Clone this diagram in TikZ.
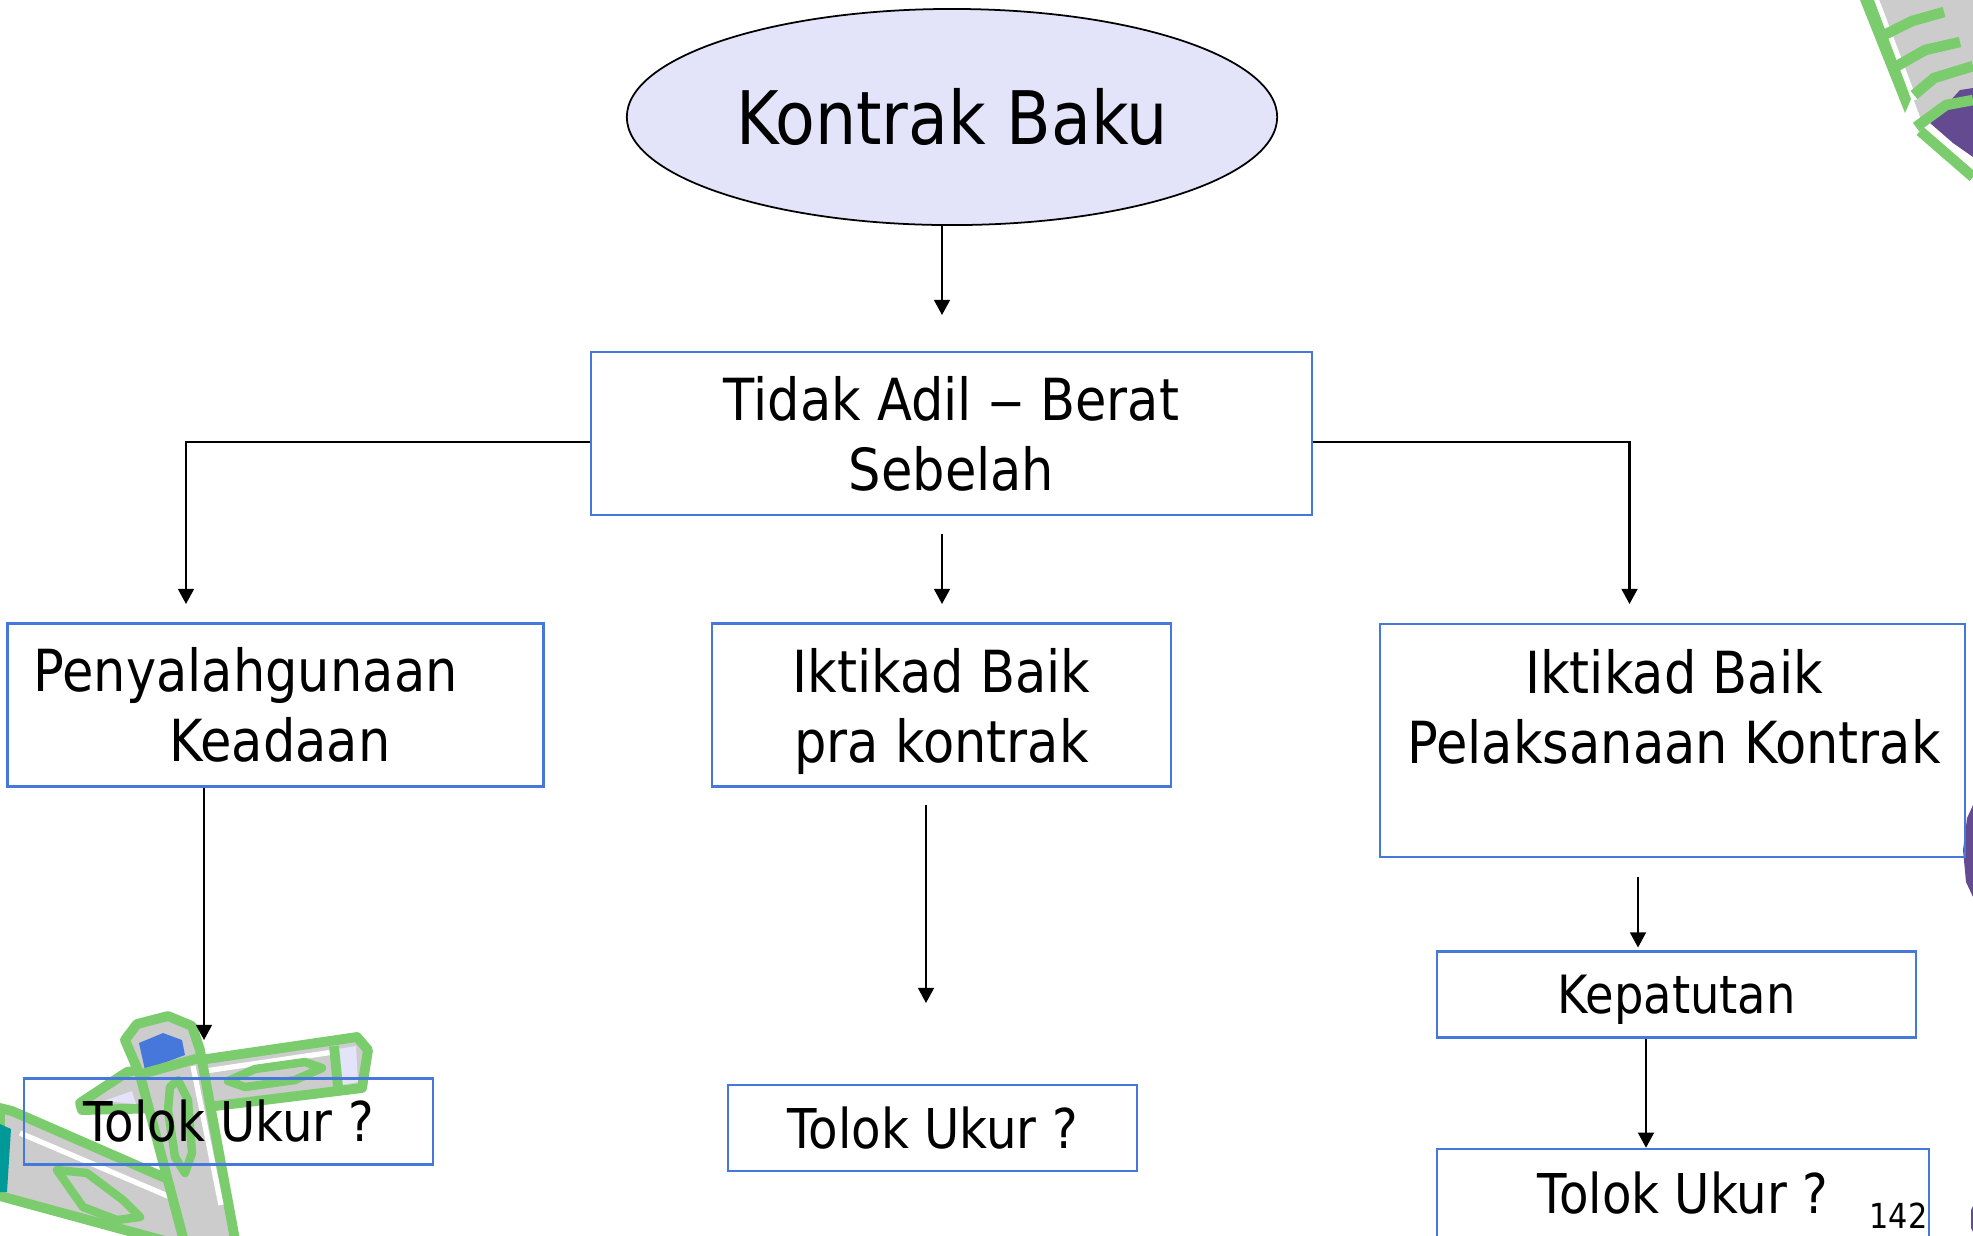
\documentclass[tikz,border=0pt]{standalone}
\usepackage{fontspec}
\setmainfont{DejaVu Sans}[FakeStretch=0.88]
\usetikzlibrary{arrows.meta}
\usetikzlibrary{positioning}
\usetikzlibrary{shapes.geometric}

\definecolor{garisbiru}{RGB}{70,120,220}
\definecolor{isielips}{RGB}{227,227,250}
\definecolor{klipHijau}{RGB}{122,204,108}
\definecolor{klipAbu}{RGB}{204,204,204}
\definecolor{klipBiru}{RGB}{70,120,220}
\definecolor{klipTeal}{RGB}{0,153,153}
\definecolor{klipUngu}{RGB}{100,75,145}

% last line without descender depth, so the text sits like its neighbours
\newcommand{\tanpakaki}[1]{\raisebox{0pt}[\height][0pt]{#1}}

\tikzset{
    elips/.style = {ellipse, draw=black, line width=0.5pt, fill=isielips, inner sep=0pt,
                    font=\fontsize{21}{25}\selectfont},
    kotak/.style = {rectangle, draw=garisbiru, line width=0.7pt, inner sep=0pt, align=center,
                    font=\fontsize{16.5}{19.9}\selectfont},
    kotakkecil/.style = {kotak, minimum height=0.86cm, font=\fontsize{15}{18}\selectfont},
    tolok/.style = {kotakkecil, font=\fontsize{15.6}{18}\selectfont},
    teks/.style = {inner sep=0pt, align=center, font=\fontsize{16.5}{19.9}\selectfont},
    panah/.style = {-{Triangle[width=4.5pt,length=4.3pt]}, line width=0.6pt},
    klip/.style = {fill=klipAbu, draw=klipHijau, line width=2.8pt, line join=round},
    tapak/.style = {draw=klipHijau, line width=2.4pt, line join=round},
}

\begin{document}
\begin{tikzpicture}[x=0.01cm, y=-0.01cm]
    \useasboundingbox (0,0) rectangle (1973,1235);
    \clip (0,0) rectangle (1973,1235);
    \fill[white] (0,0) rectangle (1973,1235);

    % paper clips, bottom left
    \filldraw[klip] (80,1103) -- (127,1072) -- (200,1060) -- (357,1037) -- (368,1050)
        -- (362,1088) -- (207,1107) -- (82,1110) -- cycle;
    \draw[white, line width=1.5pt] (205,1071) -- (340,1051);
    \fill[isielips] (338,1049) -- (356,1046) -- (358,1082) -- (341,1085) -- cycle;
    \draw[klipHijau, line width=2.8pt] (334,1046) -- (338,1087);
    \fill[isielips] (104,1101) -- (132,1091) -- (136,1104) -- cycle;
    \draw[tapak] (228,1081) -- (255,1069) -- (305,1062) -- (322,1068) -- (295,1080) -- (245,1087) -- cycle;

    \filldraw[klip] (0,1108) -- (12,1111) -- (170,1180) -- (215,1210) -- (232,1245)
        -- (180,1245) -- (0,1196) -- cycle;
    \draw[white, line width=1.5pt] (20,1133) -- (175,1199);
    \fill[klipTeal] (0,1124) -- (11,1129) -- (7,1192) -- (0,1192) -- cycle;
    \fill[klipTeal] (190,1229) -- (212,1226) -- (218,1240) -- (192,1240) -- cycle;
    \draw[tapak] (57,1170) -- (87,1173) -- (123,1200) -- (140,1217) -- (117,1220) -- (83,1207) -- cycle;

    \filldraw[klip] (125,1040) -- (137,1024) -- (168,1016) -- (192,1026) -- (200,1050)
        -- (236,1245) -- (185,1245) -- (140,1075) -- cycle;
    \fill[klipBiru] (139,1043) -- (163,1033) -- (182,1040) -- (185,1055) -- (145,1070) -- cycle;
    \draw[klipHijau, line width=2.8pt] (138,1075) -- (199,1058);
    \draw[white, line width=1.5pt] (193,1066) -- (221,1205);
    \draw[tapak] (170,1087) -- (178,1080) -- (188,1100) -- (192,1153) -- (185,1173) -- (175,1157) -- (168,1110) -- cycle;

    % paper clip, top right
    \fill[klipAbu] (1876,0) -- (1973,0) -- (1973,92) -- (1922,122) -- cycle;
    \fill[klipHijau] (1860,0) -- (1874,0) -- (1911,99) -- (1905,113) -- cycle;
    \draw[white, line width=1.2pt] (1877,0) -- (1915,100);
    \draw[tapak, line width=3pt] (1886,34) -- (1912,21) -- (1944,12);
    \draw[tapak, line width=3pt] (1897,66) -- (1925,50) -- (1960,42);
    \draw[tapak, line width=3pt] (1914,95) -- (1934,78) -- (1973,66);
    \fill[klipUngu] (1930,123) -- (1960,90) -- (1973,88) -- (1973,157) -- (1953,143) -- cycle;
    \draw[tapak, line width=3pt] (1916,127) -- (1946,105) -- (1973,100);
    \draw[tapak, line width=3pt] (1920,131) -- (1973,177);

    % purple bits on the right edge
    \fill[klipUngu] (1973,805) -- (1967,818) -- (1963,850) -- (1966,882) -- (1973,897) -- cycle;
    \fill[klipUngu] (1971,1210) -- (1973,1206) -- (1973,1232) -- (1971,1228) -- cycle;

    % nodes
    \node[elips, minimum width=6.5cm, minimum height=2.16cm] (kontrak) at (952,117) {Kontrak Baku};
    \node[kotak, minimum width=7.21cm, minimum height=1.63cm] (tidak) at (951.5,433.5)
        {Tidak Adil \scalebox{1.4}[1]{–} Berat\\Sebelah};

    \node[kotak, minimum width=5.36cm, minimum height=1.63cm, text width=4.84cm, align=left] (penyalah)
        at (275.5,705) {Penyalahgunaan\\\hspace*{1.36cm}Keadaan};
    \node[kotak, minimum width=4.59cm, minimum height=1.63cm] (prakontrak) at (941.5,705)
        {Iktikad Baik\\\tanpakaki{pra kontrak}};
    \node[kotak, minimum width=5.85cm, minimum height=2.33cm] (pelaksanaan) at (1672.5,740.5) {};
    \node[teks] (pelaksanaanteks) at (1674,707) {Iktikad Baik\\Pelaksanaan Kontrak};

    \node[kotakkecil, minimum width=4.79cm] (kepatutan) at (1676.5,994.5) {\tanpakaki{Kepatutan}};
    \node[tolok, minimum width=4.09cm] (tolokkiri) at (228.5,1121.5) {Tolok Ukur ?};
    \node[tolok, minimum width=4.09cm] (toloktengah) at (932.5,1128) {Tolok Ukur ?};
    \node[tolok, minimum width=4.92cm, minimum height=0.88cm] (tolokkanan) at (1683,1193) {Tolok Ukur ?};

    \node[anchor=base east, inner sep=0pt, font=\fontsize{9.8}{11}\selectfont] (halaman) at (1928,1228) {142};

    % connectors
    \coordinate (ujungatas) at (942,315);
    \coordinate (ujungkiri) at (186,604);
    \coordinate (ujungkanan) at (1629.5,604);
    \coordinate (pangkaltengah) at (942,533.5);
    \coordinate (ujungtengah) at (942,604);
    \coordinate (ujungkiri2) at (204,1040);
    \coordinate (pangkaltengah2) at (926,805);
    \coordinate (ujungtengah2) at (926,1003);
    \coordinate (pangkalkanan2) at (1638,877);
    \coordinate (ujungkanan2) at (1638,947.5);
    \coordinate (jalurkanan) at (1646,1148);

    \draw[panah] (kontrak.south -| ujungatas) -- (ujungatas);
    \draw[panah] ([yshift=-0.085cm]tidak.west) -| (ujungkiri);
    \draw[panah] ([yshift=-0.085cm]tidak.east) -| (ujungkanan);
    \draw[panah] (pangkaltengah) -- (ujungtengah);
    \draw[panah] (penyalah.south -| ujungkiri2) -- (ujungkiri2);
    \draw[panah] (pangkaltengah2) -- (ujungtengah2);
    \draw[panah] (pangkalkanan2) -- (ujungkanan2);
    \draw[panah] (kepatutan.south -| jalurkanan) -- (tolokkanan.north -| jalurkanan);
\end{tikzpicture}
\end{document}
